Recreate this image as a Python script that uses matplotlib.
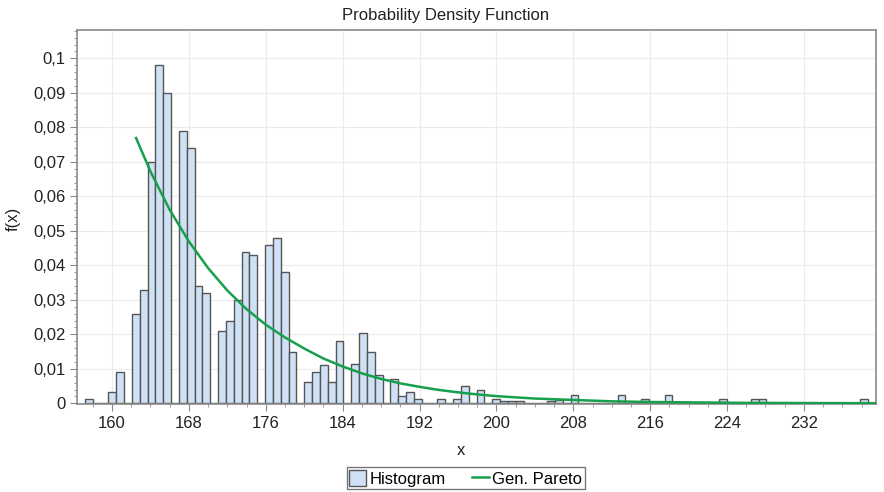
import numpy as np
import matplotlib
matplotlib.use('Agg')
import matplotlib.pyplot as plt
from matplotlib.ticker import MultipleLocator, FuncFormatter
from matplotlib.patches import Patch
from matplotlib.lines import Line2D

plt.rcParams['font.family'] = ['Liberation Sans', 'DejaVu Sans']

# histogram: 100 equal bins between the lowest and highest value
hist_lo = 157.18
hist_hi = 238.70
density = [0.0012, 0, 0, 0.0034, 0.0091, 0, 0.026, 0.033, 0.070, 0.098,
           0.090, 0, 0.079, 0.074, 0.034, 0.032, 0, 0.021, 0.024, 0.030,
           0.044, 0.043, 0, 0.046, 0.048, 0.038, 0.015, 0, 0.0063, 0.0092,
           0.011, 0.0061, 0.018, 0, 0.0113, 0.0203, 0.015, 0.0082, 0, 0.007,
           0.0022, 0.0032, 0.0012, 0, 0, 0.0012, 0, 0.0012, 0.005, 0,
           0.004, 0, 0.0012, 0.0006, 0.0006, 0.0006, 0, 0, 0, 0.0008,
           0.001, 0, 0.0024, 0, 0, 0, 0, 0, 0.0024, 0,
           0, 0.0012, 0, 0, 0.0024, 0, 0, 0, 0, 0,
           0, 0.0012, 0, 0, 0, 0.0012, 0.0012, 0, 0, 0,
           0, 0, 0, 0, 0, 0, 0, 0, 0, 0.0012]

# fitted Gen. Pareto curve
pareto_x = [162.5, 164, 166, 168, 170, 172, 174, 176, 178, 180, 182, 184, 186,
            188, 190, 192, 194, 196, 198, 200, 204, 208, 212, 216, 220, 226,
            232, 239.6]
pareto_f = [0.0769, 0.0672, 0.0561, 0.0469, 0.0392, 0.0327, 0.0273, 0.0228,
            0.0191, 0.0159, 0.0130, 0.0107, 0.0087, 0.0071, 0.0058, 0.0048,
            0.0039, 0.0032, 0.0026, 0.0021, 0.0014, 0.0010, 0.0006, 0.0004,
            0.0003, 0.00015, 0.0001, 0.00005]

edges = np.linspace(hist_lo, hist_hi, len(density) + 1)

fig = plt.figure(figsize=(8.84, 4.92), dpi=100)
ax = fig.add_axes([0.0875, 0.178, 0.904, 0.761])

ax.bar(edges[:-1], density, width=np.diff(edges), align='edge',
       color='#cfe1f4', edgecolor='#555555', linewidth=1.0, zorder=2)
ax.plot(pareto_x, pareto_f, color='#16a04c', lw=1.8, zorder=3)

ax.set_xlim(156.39, 239.55)
ax.set_ylim(-0.0003, 0.1082)

ax.xaxis.set_major_locator(MultipleLocator(8))
ax.xaxis.set_minor_locator(MultipleLocator(2))
ax.yaxis.set_major_locator(MultipleLocator(0.01))
ax.yaxis.set_minor_locator(MultipleLocator(0.002))
ax.set_xticks(np.arange(160, 233, 8))
ax.yaxis.set_major_formatter(FuncFormatter(
    lambda v, p: '0' if abs(v) < 1e-9 else f'{v:g}'.replace('.', ',')))

ax.grid(True, which='major', color='#ebebeb', lw=0.8, zorder=0)
ax.set_axisbelow(True)
for s in ax.spines.values():
    s.set_color('#8a8a8a')
    s.set_linewidth(1.2)
ax.tick_params(which='major', direction='out', length=5, color='#8a8a8a',
               labelsize=12, labelcolor='#222222')
ax.tick_params(which='minor', direction='out', length=2.5, color='#8a8a8a')

fig.text(0.5045, 0.969, 'Probability Density Function', ha='center',
         va='center', fontsize=12, color='#222222')
fig.text(0.522, 0.085, 'x', ha='center', va='center', fontsize=12,
         color='#222222')
fig.text(0.015, 0.555, 'f(x)', ha='center', va='center', rotation=90,
         fontsize=12, color='#222222')

handles = [Patch(facecolor='#cfe1f4', edgecolor='#555555', lw=1.0),
           Line2D([], [], color='#16a04c', lw=1.8)]
leg = fig.legend(handles, ['Histogram', 'Gen. Pareto'], ncol=2,
                 loc='center', bbox_to_anchor=(0.527, 0.028), fontsize=12,
                 frameon=True, fancybox=False, handlelength=1.0,
                 handleheight=1.1, handletextpad=0.2, columnspacing=1.6,
                 borderpad=0.15, borderaxespad=0)
leg.get_frame().set_edgecolor('#555555')
leg.get_frame().set_linewidth(1.0)

fig.savefig('out.png', dpi=100)
